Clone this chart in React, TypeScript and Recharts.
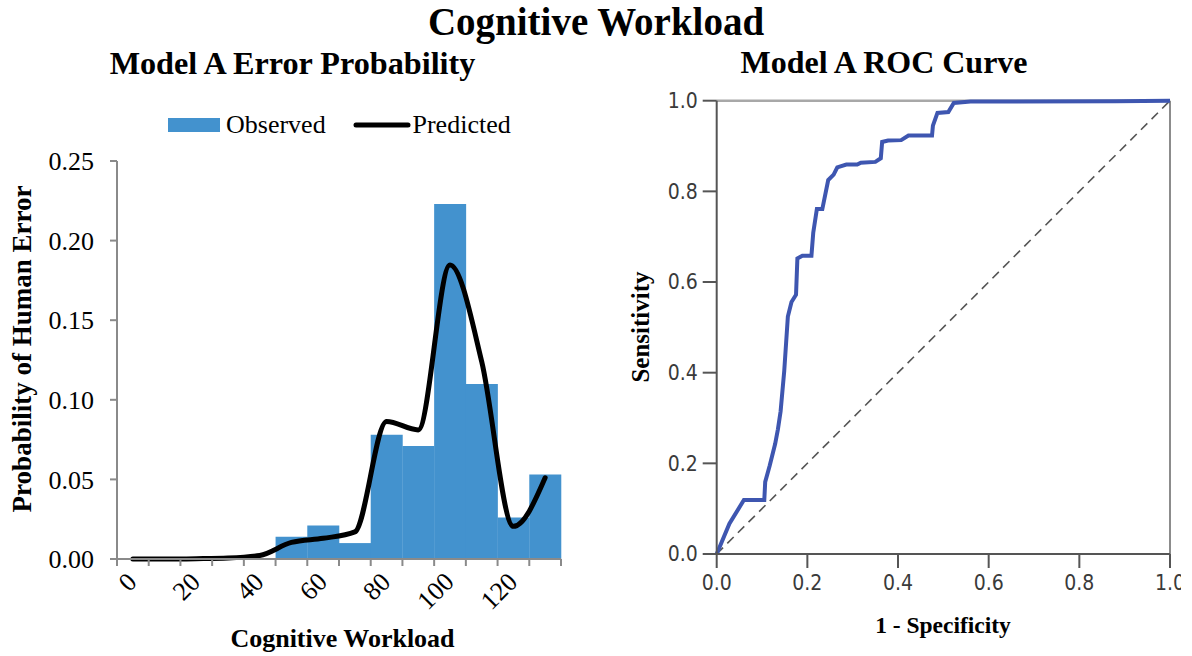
import React from 'react';
import { ComposedChart, Bar, Line, XAxis, YAxis, ReferenceLine } from 'recharts';

// ---------- Left chart data (histogram of cognitive workload) ----------
const binWidth = 10;
const binStarts = [0, 10, 20, 30, 40, 50, 60, 70, 80, 90, 100, 110, 120, 130];
const observed = [0, 0, 0, 0, 0, 0.014, 0.021, 0.010, 0.078, 0.071, 0.223, 0.110, 0.026, 0.053];
const predicted = [0, 0, 0.0002, 0.0006, 0.0022, 0.0104, 0.013, 0.017, 0.0864, 0.0811, 0.1847, 0.124, 0.0205, 0.051];
const binEdges = [0, 10, 20, 30, 40, 50, 60, 70, 80, 90, 100, 110, 120, 130, 140];
const xLabelValues = [0, 20, 40, 60, 80, 100, 120];
const yTicksLeft = [0, 0.05, 0.1, 0.15, 0.2, 0.25];

// ---------- Right chart data (ROC curve) ----------
const fpr = [0, 0.028, 0.06, 0.105, 0.107, 0.117, 0.129, 0.135, 0.141, 0.149, 0.157, 0.165, 0.175, 0.178, 0.189, 0.209, 0.213, 0.221, 0.233, 0.246, 0.258, 0.266, 0.286, 0.31, 0.318, 0.35, 0.362, 0.365, 0.378, 0.407, 0.423, 0.475, 0.477, 0.487, 0.511, 0.523, 0.56, 0.88, 1];
const tpr = [0, 0.067, 0.119, 0.119, 0.159, 0.195, 0.243, 0.275, 0.315, 0.404, 0.524, 0.556, 0.572, 0.652, 0.658, 0.658, 0.709, 0.761, 0.761, 0.825, 0.837, 0.853, 0.859, 0.859, 0.863, 0.865, 0.873, 0.909, 0.912, 0.913, 0.923, 0.923, 0.945, 0.973, 0.975, 0.995, 0.998, 0.999, 1];
const diagX = [0, 1];
const diagY = [0, 1];
const rocTicks = [0, 0.2, 0.4, 0.6, 0.8, 1.0];

const histData = binStarts.map((b, i) => ({
  center: b + binWidth / 2,
  observed: observed[i],
  predicted: predicted[i],
}));
const rocData = fpr.map((x, i) => ({ x, y: tpr[i] }));
const diagData = diagX.map((x, i) => ({ x, y: diagY[i] }));
const labelTicks = xLabelValues.map((v) => v + binWidth / 2);

const SERIF = "'Liberation Serif', 'Times New Roman', serif";
const NARROW = "'DejaVu Sans Condensed', 'DejaVu Sans', sans-serif";
const BLUE = '#4392CE';
const AXIS_GRAY = '#8a8a8a';

const RotatedTick = (props: any) => {
  const { x, y, payload } = props;
  const ax = x - 1;
  return (
    <text
      x={ax}
      y={y}
      dy="0.35em"
      textAnchor="end"
      fontFamily={SERIF}
      fontSize={26}
      fill="#000"
      transform={`rotate(-45 ${ax} ${y})`}
    >
      {String(payload.value - binWidth / 2)}
    </text>
  );
};

const EmptyTick = () => <g />;

const rocTickStyle = { fontFamily: NARROW, fontSize: 21, fill: '#3a3a3a', fontStretch: 'condensed' } as any;

export default function App() {
  return (
    <div style={{ position: 'absolute', left: 0, top: 0, width: 1192, height: 656, background: '#fff', overflow: 'hidden' }}>
      <div style={{ position: 'absolute', left: 0, top: 0 }}>
        <ComposedChart
          width={600}
          height={656}
          data={histData}
          margin={{ top: 161, right: 39, bottom: 0, left: 0 }}
          barCategoryGap={0}
          barGap={0}
        >
          <XAxis
            xAxisId="a"
            type="number"
            dataKey="center"
            domain={[0, 140]}
            ticks={binEdges}
            interval={0}
            tick={<EmptyTick />}
            tickSize={7}
            tickMargin={0}
            height={8}
            axisLine={{ stroke: AXIS_GRAY, strokeWidth: 2 }}
            tickLine={{ stroke: AXIS_GRAY, strokeWidth: 2 }}
          />
          <XAxis
            xAxisId="b"
            type="number"
            dataKey="center"
            domain={[0, 140]}
            ticks={labelTicks}
            interval={0}
            axisLine={false}
            tickLine={false}
            tickSize={0}
            tickMargin={10}
            height={89}
            tick={<RotatedTick />}
          />
          <YAxis
            type="number"
            domain={[0, 0.25]}
            ticks={yTicksLeft}
            interval={0}
            width={117}
            tickSize={7}
            tickMargin={16}
            tickFormatter={(v: number) => v.toFixed(2)}
            tick={{ fontFamily: SERIF, fontSize: 26, fill: '#000' }}
            axisLine={{ stroke: AXIS_GRAY, strokeWidth: 2 }}
            tickLine={{ stroke: AXIS_GRAY, strokeWidth: 2 }}
          />
          <Bar xAxisId="a" dataKey="observed" fill={BLUE} isAnimationActive={false} />
          <Line
            xAxisId="b"
            dataKey="predicted"
            type="monotone"
            stroke="#000"
            strokeWidth={5}
            strokeLinecap="round"
            dot={false}
            activeDot={false}
            isAnimationActive={false}
          />
        </ComposedChart>
      </div>

      <div style={{ position: 'absolute', left: 600, top: 0 }}>
        <ComposedChart width={581} height={656} margin={{ top: 100.7, right: 11, bottom: 0, left: 0 }}>
          <XAxis
            type="number"
            dataKey="x"
            domain={[0, 1]}
            ticks={rocTicks}
            interval={0}
            height={102}
            tickSize={14}
            tickMargin={7}
            tickFormatter={(v: number) => v.toFixed(1)}
            tick={rocTickStyle}
            axisLine={{ stroke: '#555', strokeWidth: 2 }}
            tickLine={{ stroke: '#555', strokeWidth: 2 }}
          />
          <YAxis
            type="number"
            dataKey="y"
            domain={[0, 1]}
            ticks={rocTicks}
            interval={0}
            width={116.7}
            tickSize={14}
            tickMargin={5}
            tickFormatter={(v: number) => v.toFixed(1)}
            tick={rocTickStyle}
            axisLine={{ stroke: '#555', strokeWidth: 2 }}
            tickLine={{ stroke: '#555', strokeWidth: 2 }}
          />
          <ReferenceLine y={1} stroke="#a8a8a8" strokeWidth={2.5} />
          <ReferenceLine x={1} stroke="#8c8c8c" strokeWidth={2} />
          <Line
            data={diagData}
            dataKey="y"
            type="linear"
            stroke="#555"
            strokeWidth={1.6}
            strokeDasharray="9 6"
            dot={false}
            activeDot={false}
            isAnimationActive={false}
          />
          <Line
            data={rocData}
            dataKey="y"
            type="linear"
            stroke="#3E56B0"
            strokeWidth={4}
            dot={false}
            activeDot={false}
            isAnimationActive={false}
          />
        </ComposedChart>
      </div>

      <svg width={1192} height={656} style={{ position: 'absolute', left: 0, top: 0, pointerEvents: 'none' }}>
        <text x={596} y={35} textAnchor="middle" fontFamily={SERIF} fontWeight="bold" fontSize={39} fill="#000">
          Cognitive Workload
        </text>
        <text x={292.5} y={74} textAnchor="middle" fontFamily={SERIF} fontWeight="bold" fontSize={32.2} fill="#000">
          Model A Error Probability
        </text>
        <text x={884} y={73} textAnchor="middle" fontFamily={SERIF} fontWeight="bold" fontSize={32} fill="#000">
          Model A ROC Curve
        </text>
        <rect x={168} y={118} width={52} height={14} fill={BLUE} />
        <text x={226} y={133} fontFamily={SERIF} fontSize={26} fill="#000">Observed</text>
        <line x1={356} y1={125} x2={408} y2={125} stroke="#000" strokeWidth={5} strokeLinecap="round" />
        <text x={412.5} y={133} fontFamily={SERIF} fontSize={26} fill="#000">Predicted</text>
        <text
          x={31}
          y={349}
          textAnchor="middle"
          fontFamily={SERIF}
          fontWeight="bold"
          fontSize={27}
          fill="#000"
          transform="rotate(-90 31 349)"
        >
          Probability of Human Error
        </text>
        <text x={342.5} y={647} textAnchor="middle" fontFamily={SERIF} fontWeight="bold" fontSize={26} fill="#000">
          Cognitive Workload
        </text>
        <text
          x={649}
          y={327}
          textAnchor="middle"
          fontFamily={SERIF}
          fontWeight="bold"
          fontSize={25}
          fill="#000"
          transform="rotate(-90 649 327)"
        >
          Sensitivity
        </text>
        <text x={943} y={633} textAnchor="middle" fontFamily={SERIF} fontWeight="bold" fontSize={23.5} fill="#000">
          1 - Specificity
        </text>
      </svg>
    </div>
  );
}
